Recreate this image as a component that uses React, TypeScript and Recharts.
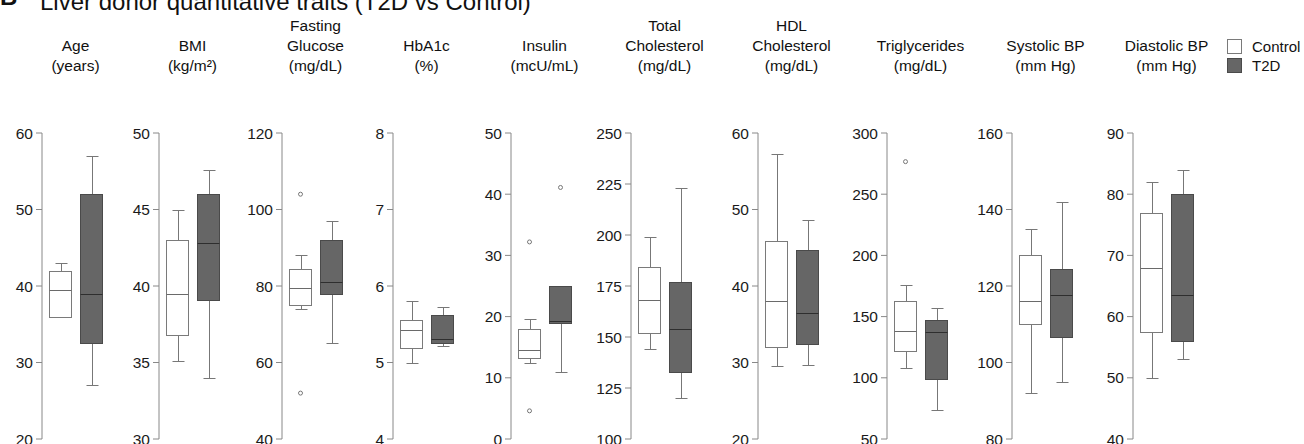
import React from 'react';
import { ComposedChart, Bar, Scatter, XAxis, YAxis } from 'recharts';

const groups = ['Control', 'T2D'];

const traitHeaders = [
  ['Age', '(years)'],
  ['BMI', '(kg/m²)'],
  ['Fasting', 'Glucose', '(mg/dL)'],
  ['HbA1c', '(%)'],
  ['Insulin', '(mcU/mL)'],
  ['Total', 'Cholesterol', '(mg/dL)'],
  ['HDL', 'Cholesterol', '(mg/dL)'],
  ['Triglycerides', '(mg/dL)'],
  ['Systolic BP', '(mm Hg)'],
  ['Diastolic BP', '(mm Hg)'],
];

const yDomains = [
  [20, 60], [30, 50], [40, 120], [4, 8], [0, 50],
  [100, 250], [20, 60], [50, 300], [80, 160], [40, 90],
];

const yTicks = [
  [20, 30, 40, 50, 60],
  [30, 35, 40, 45, 50],
  [40, 60, 80, 100, 120],
  [4, 5, 6, 7, 8],
  [0, 10, 20, 30, 40, 50],
  [100, 125, 150, 175, 200, 225, 250],
  [20, 30, 40, 50, 60],
  [50, 100, 150, 200, 250, 300],
  [80, 100, 120, 140, 160],
  [40, 50, 60, 70, 80, 90],
];

// [min, q1, median, q3, max]
const controlBoxes = [
  [36, 36, 39.5, 42, 43],
  [35.1, 36.8, 39.5, 43, 45],
  [74, 75, 79.5, 84.5, 88],
  [5.0, 5.19, 5.43, 5.56, 5.81],
  [12.4, 13.2, 14.5, 17.9, 19.6],
  [144, 152, 168, 184.5, 199],
  [29.6, 32, 38, 45.9, 57.2],
  [108, 122, 138, 163, 176],
  [92, 110, 116, 128, 135],
  [50, 57.5, 68, 77, 82],
];

const t2dBoxes = [
  [27, 32.5, 39, 52, 57],
  [34, 39.1, 42.8, 46, 47.6],
  [65, 78, 81, 92, 97],
  [5.22, 5.26, 5.31, 5.62, 5.72],
  [11, 18.9, 19.3, 25, 25],
  [120, 133, 154, 177, 223],
  [29.7, 32.4, 36.5, 44.7, 48.6],
  [74, 99, 137.5, 147, 157],
  [95, 106.6, 117.6, 124.5, 142],
  [53, 56, 63.5, 80, 84],
];

const controlOutliers = [[], [], [104, 52], [], [32.2, 4.6], [], [], [276.6], [], []];
const t2dOutliers = [[], [], [], [], [41.1], [], [], [], [], []];

// layout
const axisX = [42, 159, 282, 393, 511, 631, 758, 887, 1012, 1133];
const Y_AXIS_W = 40;
const CHART_TOP = 120;
const FONT = "'Liberation Sans', Arial, Helvetica, sans-serif";

const styles: Record<string, { fill: string; stroke: string; median: string }> = {
  Control: { fill: '#ffffff', stroke: '#7a7a7a', median: '#6a6a6a' },
  T2D: { fill: '#666666', stroke: '#4a4a4a', median: '#2e2e2e' },
};
const whiskerColor = '#777777';

const crisp = (v: number) => Math.round(v) + 0.5;

const BoxShape = (props: any) => {
  const { x, y, width, height, payload } = props;
  if (!payload || !payload.stats) return <g />;
  const [lo, q1, med, q3, hi] = payload.stats;
  const top = Math.min(y, y + height);
  const span = Math.abs(height);
  const py = (v: number) => top + ((hi - v) / (hi - lo)) * span;
  const st = styles[payload.group];
  const cx = crisp(x + width / 2);
  const left = crisp(x);
  const right = crisp(x + width) - 1;
  const capHalf = 6;
  return (
    <g>
      <line x1={cx} x2={cx} y1={crisp(py(hi))} y2={crisp(py(q3))} stroke={whiskerColor} />
      <line x1={cx} x2={cx} y1={crisp(py(q1))} y2={crisp(py(lo))} stroke={whiskerColor} />
      <line x1={cx - capHalf} x2={cx + capHalf} y1={crisp(py(hi))} y2={crisp(py(hi))} stroke={whiskerColor} />
      <line x1={cx - capHalf} x2={cx + capHalf} y1={crisp(py(lo))} y2={crisp(py(lo))} stroke={whiskerColor} />
      <rect
        x={left}
        y={crisp(py(q3))}
        width={right - left}
        height={Math.max(crisp(py(q1)) - crisp(py(q3)), 1)}
        fill={st.fill}
        stroke={st.stroke}
      />
      <line x1={left} x2={right} y1={crisp(py(med))} y2={crisp(py(med))} stroke={st.median} />
    </g>
  );
};

const makeOutlier = (key: string) => (props: any) => {
  const { cx, cy, payload } = props;
  if (!payload || payload[key] == null || cy == null || isNaN(cy)) return <g />;
  return <circle cx={cx} cy={cy} r={2} fill="none" stroke="#777777" strokeWidth={1} />;
};

const Panel = ({ idx }: { idx: number }) => {
  const boxes = [controlBoxes[idx], t2dBoxes[idx]];
  const outs = [controlOutliers[idx], t2dOutliers[idx]];
  const rows = groups.map((g, i) => ({
    group: g,
    stats: boxes[i],
    range: [boxes[i][0], boxes[i][4]],
    out0: outs[i][0] ?? null,
    out1: outs[i][1] ?? null,
  }));
  return (
    <div style={{ position: 'absolute', left: axisX[idx] - Y_AXIS_W, top: CHART_TOP }}>
      <ComposedChart width={110} height={324} data={rows} margin={{ top: 13, right: 5, bottom: 5, left: 0 }}>
        <XAxis dataKey="group" type="category" hide padding={{ left: 3, right: 0 }} />
        <YAxis
          type="number"
          domain={yDomains[idx]}
          ticks={yTicks[idx]}
          interval={0}
          width={Y_AXIS_W}
          tickSize={6}
          tickMargin={3}
          axisLine={{ stroke: '#888888' }}
          tickLine={{ stroke: '#888888' }}
          tick={{ fill: '#1a1a1a', fontSize: 15.5, fontFamily: FONT }}
          allowDataOverflow
        />
        <Bar dataKey="range" barSize={23} shape={BoxShape} isAnimationActive={false} />
        <Scatter dataKey="out0" shape={makeOutlier('out0')} isAnimationActive={false} />
        <Scatter dataKey="out1" shape={makeOutlier('out1')} isAnimationActive={false} />
      </ComposedChart>
    </div>
  );
};

export default function App() {
  return (
    <div
      style={{
        position: 'absolute',
        left: 0,
        top: 0,
        width: 1304,
        height: 444,
        overflow: 'hidden',
        background: '#ffffff',
        fontFamily: FONT,
      }}
    >
      <svg width={1304} height={120} style={{ position: 'absolute', left: 0, top: 0 }}>
        <text x={0} y={5} fontSize={24} fontWeight="bold" fill="#111" fontFamily={FONT}>
          B
        </text>
        <text x={40} y={10} fontSize={24} fill="#111" fontFamily={FONT}>
          Liver donor quantitative traits (T2D vs Control)
        </text>
        {traitHeaders.map((lines, i) =>
          lines.map((line, j) => (
            <text
              key={`${i}-${j}`}
              x={axisX[i] + 33.5}
              y={71 - (lines.length - 1 - j) * 20}
              textAnchor="middle"
              fontSize={15.5}
              fill="#111"
              fontFamily={FONT}
            >
              {line}
            </text>
          ))
        )}
        <rect x={1227.5} y={39.5} width={14} height={14} fill="#ffffff" stroke="#7a7a7a" />
        <rect x={1227.5} y={58.5} width={14} height={14} fill="#666666" stroke="#4a4a4a" />
        <text x={1252} y={52} fontSize={15} fill="#111" fontFamily={FONT}>
          Control
        </text>
        <text x={1252} y={71} fontSize={15} fill="#111" fontFamily={FONT}>
          T2D
        </text>
      </svg>
      {traitHeaders.map((_, i) => (
        <Panel key={i} idx={i} />
      ))}
    </div>
  );
}
